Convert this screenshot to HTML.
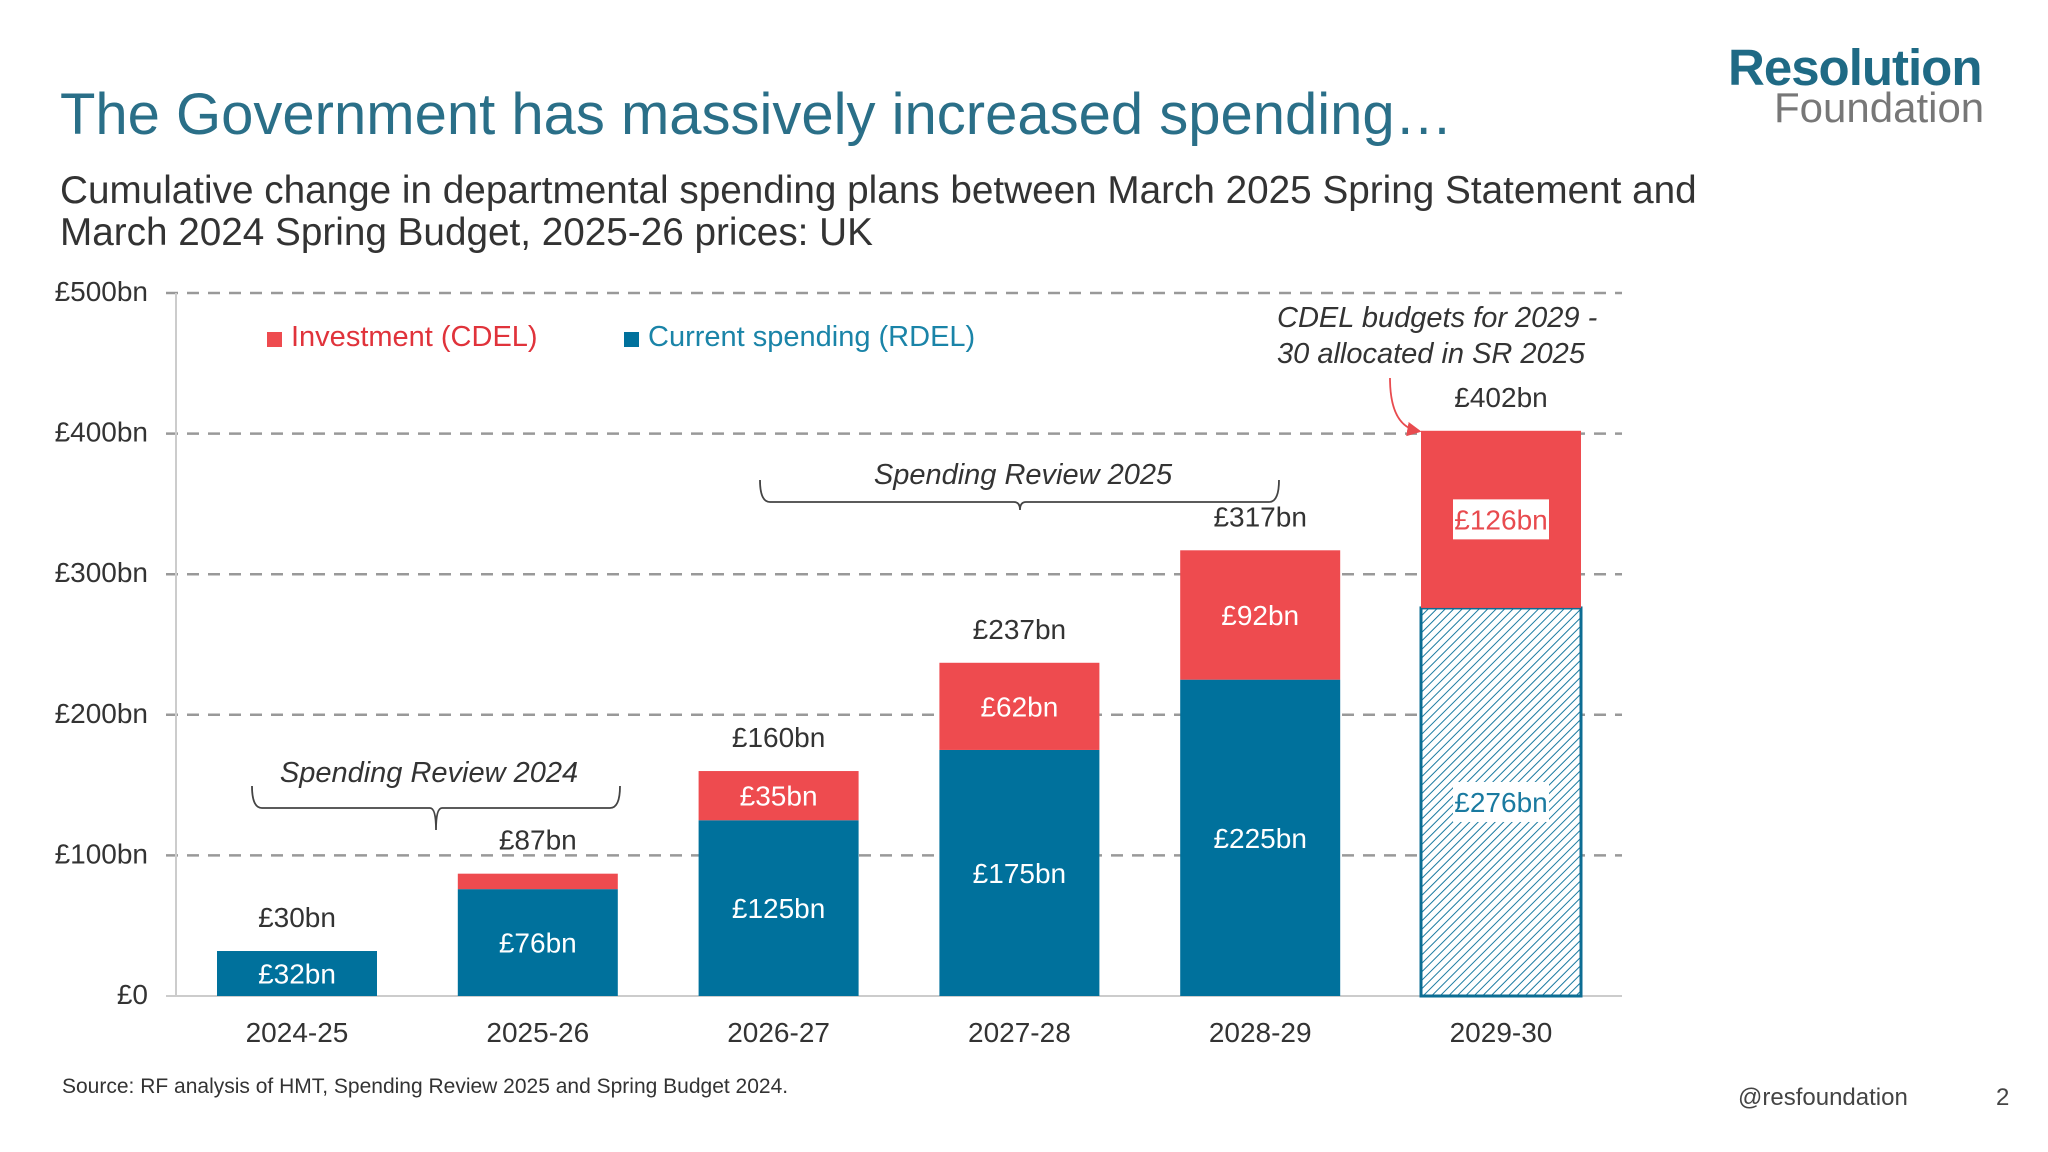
<!DOCTYPE html>
<html><head><meta charset="utf-8"><style>
html,body{margin:0;padding:0;background:#fff;}
body{width:2048px;height:1152px;position:relative;overflow:hidden;font-family:"Liberation Sans",sans-serif;}
.abs{position:absolute;white-space:nowrap;}
</style></head><body>
<div class="abs" style="left:60px;top:81px;font-size:58px;color:#2a6f88;">The Government has massively increased spending…</div>
<div class="abs" style="left:60px;top:170px;font-size:38.7px;line-height:42px;color:#333;">Cumulative change in departmental spending plans between March 2025 Spring Statement and<br>March 2024 Spring Budget, 2025-26 prices: UK</div>
<div class="abs" style="left:1728px;top:38px;font-size:51px;font-weight:bold;color:#1f6a85;letter-spacing:-1px;">Resolution</div>
<div class="abs" style="left:1774px;top:84px;font-size:42px;color:#777;">Foundation</div>
<div class="abs" style="left:62px;top:1075px;font-size:21px;color:#333;">Source: RF analysis of HMT, Spending Review 2025 and Spring Budget 2024.</div>
<div class="abs" style="left:1738px;top:1084px;font-size:24px;color:#444;">@resfoundation</div>
<div class="abs" style="left:1996px;top:1084px;font-size:24px;color:#444;">2</div>
<svg id="chart" width="2048" height="1152" style="position:absolute;left:0;top:0" xmlns="http://www.w3.org/2000/svg">
<defs><pattern id="hatch" width="6" height="6" patternUnits="userSpaceOnUse" patternTransform="rotate(45)"><rect width="6" height="6" fill="#fff"/><line x1="0" y1="0" x2="0" y2="6" stroke="#1a7aa0" stroke-width="2"/></pattern>
<marker id="arr" markerWidth="8" markerHeight="8" refX="6" refY="4" orient="auto"><path d="M0,0 L8,4 L0,8 z" fill="#e84b4f"/></marker></defs>
</svg>
<script>
const categories=["2024-25","2025-26","2026-27","2027-28","2028-29","2029-30"];
const rdel=[32,76,125,175,225,276];
const cdel=[-2,11,35,62,92,126];
const totals=[30,87,160,237,317,402];
const yTicks=[0,100,200,300,400,500];
const yTickLabels=["£0","£100bn","£200bn","£300bn","£400bn","£500bn"];
const svg=document.getElementById('chart');
const NS='http://www.w3.org/2000/svg';
const y0=996,yScale=140.6/100;
const y=v=>y0-v*yScale;
const x0=297,step=240.8,bw=160;
const xc=i=>x0+i*step;
function mk(t,a,p){const e=document.createElementNS(NS,t);for(const k in a)e.setAttribute(k,a[k]);(p||svg).appendChild(e);return e;}
function txt(s,x,yy,a){const e=mk('text',Object.assign({x:x,y:yy},a));e.textContent=s;return e;}
yTicks.forEach((v,i)=>{
 const l=mk('line',{x1:166,x2:1622,y1:y(v),y2:y(v),stroke:v===0?'#ccc':'#999','stroke-width':v===0?2:2.5,'stroke-dasharray':v===0?'':'12 9'});
 
 
 const t=txt(yTickLabels[i],148,y(v)+8,{'text-anchor':'end','font-size':28,fill:'#333','font-family':'Liberation Sans'});
 
 
});
const ax=mk('line',{x1:176,x2:176,y1:y(500),y2:y0,stroke:'#ccc','stroke-width':2});


categories.forEach((c,i)=>{
 const cx=xc(i),L=cx-bw/2,last=i===categories.length-1;
 const r=mk('rect',{x:L,y:y(rdel[i]),width:bw,height:rdel[i]*yScale,fill:last?'url(#hatch)':'#00719c',stroke:last?'#0c6d93':'none','stroke-width':last?3:0});
 
 
 if(cdel[i]>0){
  const b=mk('rect',{x:L,y:y(rdel[i]+cdel[i]),width:bw,height:cdel[i]*yScale,fill:'#ee4b4f'});
  
  
 }
 const top=y(Math.max(totals[i],rdel[i]+Math.max(cdel[i],0)));
 const tl=txt('£'+totals[i]+'bn',cx,top-24,{'text-anchor':'middle','font-size':28,fill:'#333','font-family':'Liberation Sans'});
 
 
 const xl=txt(c,cx,1042,{'text-anchor':'middle','font-size':28,fill:'#333','font-family':'Liberation Sans'});
 
 
 const rm=y(rdel[i]/2);
 if(last){const bx=mk('rect',{x:cx-48,y:rm-20,width:96,height:40,fill:'#fff'});}
 const rl=txt('£'+rdel[i]+'bn',cx,rm+10,{'text-anchor':'middle','font-size':28,fill:last?'#1a7aa0':'#fff','font-family':'Liberation Sans'});
 
 
 if(cdel[i]>=20){
  const cm=y(rdel[i]+cdel[i]/2);
  if(last){const bx=mk('rect',{x:cx-48,y:cm-20,width:96,height:40,fill:'#fff'});}
  const cl=txt('£'+cdel[i]+'bn',cx,cm+10,{'text-anchor':'middle','font-size':28,fill:last?'#e84b4f':'#fff','font-family':'Liberation Sans'});
  
  
 }
});
const l1=mk('rect',{x:267,y:332,width:15,height:15,fill:'#ee4b4f'});


const lt1=txt('Investment (CDEL)',291,346,{'font-size':29,fill:'#e0333b','font-family':'Liberation Sans'});


const l2=mk('rect',{x:624,y:332,width:15,height:15,fill:'#00719c'});


const lt2=txt('Current spending (RDEL)',648,346,{'font-size':29,fill:'#1a84a8','font-family':'Liberation Sans'});


function brace(x1,x2,tip,yt,yb,name){
 const p=mk('path',{d:`M${x1},${yt} Q${x1},${yt+22} ${x1+10},${yt+22} L${tip-6},${yt+22} Q${tip},${yt+22} ${tip},${yb} Q${tip},${yt+22} ${tip+6},${yt+22} L${x2-10},${yt+22} Q${x2},${yt+22} ${x2},${yt}`,fill:'none',stroke:'#444','stroke-width':1.8});
 
 
}
brace(252,620,436,786,830,'brace-sr-2024');
const a1=txt('Spending Review 2024',429,782,{'text-anchor':'middle','font-size':29,'font-style':'italic',fill:'#333','font-family':'Liberation Sans'});


brace(760,1279,1020,480,510,'brace-sr-2025');
const a2=txt('Spending Review 2025',1023,484,{'text-anchor':'middle','font-size':29,'font-style':'italic',fill:'#333','font-family':'Liberation Sans'});


const a3=txt('CDEL budgets for 2029 -',1277,327,{'font-size':29,'font-style':'italic',fill:'#333','font-family':'Liberation Sans'});


const a4=txt('30 allocated in SR 2025',1277,363,{'font-size':29,'font-style':'italic',fill:'#333','font-family':'Liberation Sans'});


const ar=mk('path',{d:'M1390,378 Q1390,426 1418,431',fill:'none',stroke:'#e84b4f','stroke-width':1.8,'marker-end':'url(#arr)'});


</script>
</body></html>
